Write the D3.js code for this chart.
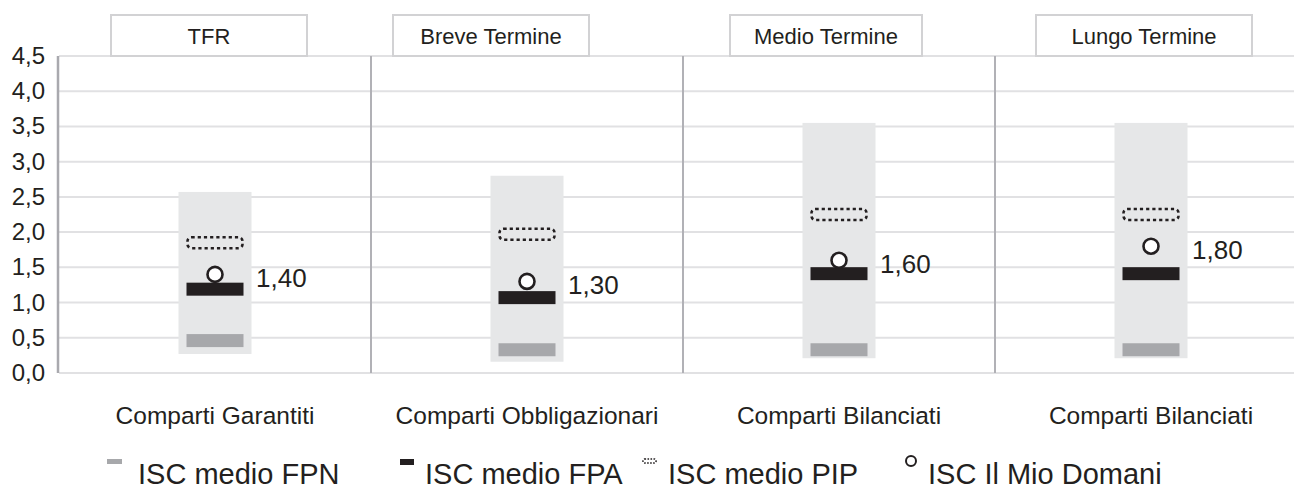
<!DOCTYPE html>
<html><head><meta charset="utf-8">
<script src="https://cdn.jsdelivr.net/npm/d3@7"></script>
<style>
html,body{margin:0;padding:0;background:#fff;}
svg{display:block;font-family:"Liberation Sans",Arial,Helvetica,sans-serif;}
</style></head>
<body><svg id="c" width="1294" height="500"></svg>
<script>
// ---- data ----
const panels = ["TFR", "Breve Termine", "Medio Termine", "Lungo Termine"];
const categories = ["Comparti Garantiti", "Comparti Obbligazionari", "Comparti Bilanciati", "Comparti Bilanciati"];
const rangeMin = [0.27, 0.16, 0.21, 0.21];
const rangeMax = [2.57, 2.80, 3.55, 3.55];
const iscFPN = [0.46, 0.33, 0.33, 0.33];
const iscFPA = [1.19, 1.07, 1.41, 1.41];
const iscPIP = [1.85, 1.97, 2.25, 2.25];
const iscMioDomani = [1.40, 1.30, 1.60, 1.80];
const yTicks = [0, 0.5, 1, 1.5, 2, 2.5, 3, 3.5, 4, 4.5];
const legendLabels = ["ISC medio FPN", "ISC medio FPA", "ISC medio PIP", "ISC Il Mio Domani"];

// ---- layout ----
const W = 1294, H = 500;
const plotTop = 56, plotBottom = 373, plotLeft = 59;
const panelW = 312;
const headerBoxes = [[111, 307], [393, 589], [730, 922], [1036, 1252]];
const legendIconX = [107, 400, 643, 905];
const legendTextX = [138, 425, 668, 928];
const txt = "#231f20";

const svg = d3.select("#c");
const fmt = v => d3.format(".1f")(v).replace(".", ",");
const fmt2 = v => d3.format(".2f")(v).replace(".", ",");

const y = d3.scaleLinear().domain([0, 4.5]).range([plotBottom, plotTop]);
const x = d3.scaleBand().domain(d3.range(panels.length)).range([plotLeft, plotLeft + panelW * panels.length]).padding(0);

// gridlines
svg.append("g").selectAll("line").data(yTicks).join("line")
  .attr("x1", plotLeft).attr("x2", W)
  .attr("y1", d => y(d)).attr("y2", d => y(d))
  .attr("stroke", "#e1e1e3").attr("stroke-width", 2);

// y axis labels
svg.append("g").selectAll("text").data(yTicks).join("text")
  .attr("x", 45).attr("y", d => y(d) + 8)
  .attr("text-anchor", "end").attr("font-size", 24).attr("fill", txt)
  .text(d => fmt(d));

// header boxes
const hb = svg.append("g");
panels.forEach((p, i) => {
  const [a, b] = headerBoxes[i];
  hb.append("rect").attr("x", a).attr("y", 15).attr("width", b - a).attr("height", plotTop - 15)
    .attr("fill", "#fff").attr("stroke", "#d2d2d4").attr("stroke-width", 2);
  hb.append("text").attr("x", (a + b) / 2).attr("y", 44).attr("text-anchor", "middle")
    .attr("font-size", 22).attr("fill", txt).text(p);
});

// axis line and separators
svg.append("line").attr("x1", plotLeft - 1).attr("x2", plotLeft - 1).attr("y1", plotTop).attr("y2", plotBottom)
  .attr("stroke", "#a9a9ae").attr("stroke-width", 2.5);
svg.append("g").selectAll("line").data(d3.range(1, panels.length)).join("line")
  .attr("x1", d => x(d)).attr("x2", d => x(d)).attr("y1", plotTop).attr("y2", plotBottom)
  .attr("stroke", "#b1b1b6").attr("stroke-width", 2);

const cx = i => x(i) + x.bandwidth() / 2;
const bandW = 73, markW = 57, markH = 13;

// range bands
svg.append("g").selectAll("rect").data(panels).join("rect")
  .attr("x", (d, i) => cx(i) - bandW / 2).attr("width", bandW)
  .attr("y", (d, i) => y(rangeMax[i])).attr("height", (d, i) => y(rangeMin[i]) - y(rangeMax[i]))
  .attr("fill", "#e6e7e8");

// FPN
svg.append("g").selectAll("rect").data(iscFPN).join("rect")
  .attr("x", (d, i) => cx(i) - markW / 2).attr("width", markW)
  .attr("y", d => y(d) - markH / 2).attr("height", markH).attr("fill", "#a7a8ab");
// FPA
svg.append("g").selectAll("rect").data(iscFPA).join("rect")
  .attr("x", (d, i) => cx(i) - markW / 2).attr("width", markW)
  .attr("y", d => y(d) - markH / 2).attr("height", markH).attr("fill", txt);
// PIP
svg.append("g").selectAll("rect").data(iscPIP).join("rect")
  .attr("x", (d, i) => cx(i) - markW / 2 + 1).attr("width", markW - 2)
  .attr("y", d => y(d) - markH / 2 + 1).attr("height", markH - 2)
  .attr("rx", 4).attr("fill", "none").attr("stroke", txt).attr("stroke-width", 2.6)
  .attr("stroke-dasharray", "3.2,3");
// Il Mio Domani
svg.append("g").selectAll("circle").data(iscMioDomani).join("circle")
  .attr("cx", (d, i) => cx(i)).attr("cy", d => y(d)).attr("r", 7.5)
  .attr("fill", "#fff").attr("stroke", txt).attr("stroke-width", 2.6);
svg.append("g").selectAll("text").data(iscMioDomani).join("text")
  .attr("x", (d, i) => cx(i) + 41).attr("y", d => y(d) + 13)
  .attr("font-size", 26).attr("fill", txt).text(d => fmt2(d));

// categories
svg.append("g").selectAll("text").data(categories).join("text")
  .attr("x", (d, i) => cx(i)).attr("y", 424).attr("text-anchor", "middle")
  .attr("font-size", 24.5).attr("fill", txt).text(d => d);

// legend
const lg = svg.append("g");
const ly = 484;
lg.append("rect").attr("x", legendIconX[0]).attr("y", ly - 25).attr("width", 15).attr("height", 5).attr("fill", "#a7a8ab");
lg.append("rect").attr("x", legendIconX[1]).attr("y", ly - 25).attr("width", 14).attr("height", 6).attr("fill", txt);
lg.append("rect").attr("x", legendIconX[2]).attr("y", ly - 25).attr("width", 13).attr("height", 4).attr("rx", 1.5)
  .attr("fill", "none").attr("stroke", txt).attr("stroke-width", 1.6).attr("stroke-dasharray", "1.6,1.4");
lg.append("circle").attr("cx", legendIconX[3] + 6).attr("cy", ly - 23).attr("r", 5)
  .attr("fill", "#fff").attr("stroke", txt).attr("stroke-width", 2);
lg.selectAll("text").data(legendLabels).join("text")
  .attr("x", (d, i) => legendTextX[i]).attr("y", ly).attr("font-size", 29).attr("fill", txt).text(d => d);
</script></body></html>
